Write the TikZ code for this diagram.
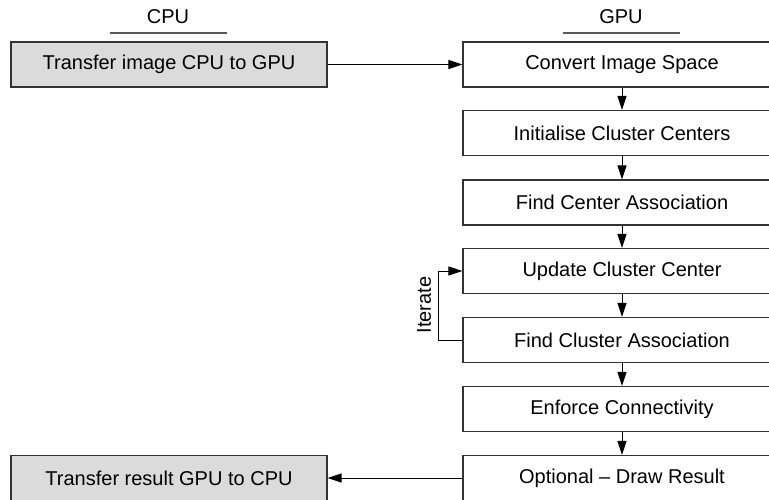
\documentclass[tikz,border=0pt]{standalone}
\usepackage{fontspec}
\setmainfont{Liberation Sans}
\usetikzlibrary{arrows.meta}

\begin{document}
\begin{tikzpicture}[x = 0.5pt, y = -0.5pt,
	txt/.style = {font = \fontsize{10}{12}\selectfont},
	box/.style = {txt, draw = black!80, line width = 0.6pt, minimum height = 22.5pt, inner sep = 0pt},
	gpubox/.style = {box, minimum width = 159pt},
	cpubox/.style = {box, minimum width = 158pt, fill = black!14},
	rule/.style = {draw = black!65, line width = 0.6pt},
	flow/.style = {draw = black, line width = 0.5pt, -{Triangle[length = 7pt, width = 4.5pt]}}]
	\path[use as bounding box, clip] (0,0) rectangle (769,499);

	% column titles
	\node[txt] (CPU) at (168,17) {CPU};
	\node[txt] (GPU) at (621,17) {GPU};
	\draw[rule] (110,33) -- (227,33);
	\draw[rule] (563,33) -- (680,33);

	% host side
	\node[cpubox] (SEND) at (169,64.5) {Transfer image CPU to GPU};
	\node[cpubox] (RECV) at (169,478) {Transfer result GPU to CPU};

	% device side
	\node[gpubox] (CONV) at (622,64.5) {Convert Image Space};
	\node[gpubox] (INIT) at (622,133) {Initialise Cluster Centers};
	\node[gpubox] (ASSC) at (622,202.5) {Find Center Association};
	\node[gpubox] (UPDT) at (622,271) {Update Cluster Center};
	\node[gpubox] (FIND) at (622,340) {Find Cluster Association};
	\node[gpubox] (CONN) at (622,409) {Enforce Connectivity};
	\node[gpubox] (DRAW) at (622,478) {Optional -- Draw Result};

	\draw[flow] (SEND) -- (CONV);
	\draw[flow] (CONV) -- (INIT);
	\draw[flow] (INIT) -- (ASSC);
	\draw[flow] (ASSC) -- (UPDT);
	\draw[flow] (UPDT) -- (FIND);
	\draw[flow] (FIND) -- (CONN);
	\draw[flow] (CONN) -- (DRAW);
	\draw[flow] (DRAW) -- (RECV);

	% iteration loop
	\draw[flow] (FIND.west) -- ++(-24,0) |- (UPDT.west);
	\node[txt, rotate = 90] (ITER) at (424,305) {Iterate};
\end{tikzpicture}
\end{document}
